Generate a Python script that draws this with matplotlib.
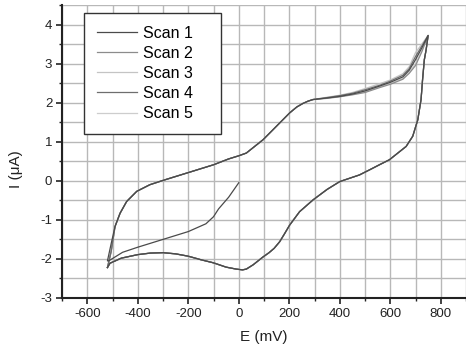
import numpy as np
import matplotlib.pyplot as plt
from matplotlib.ticker import MultipleLocator

plt.rcParams['font.family'] = ['Liberation Sans', 'DejaVu Sans']
plt.rcParams['axes.unicode_minus'] = False

# first half-sweep of scan 1 (0 mV -> negative vertex)
E_first = [0, -40, -80, -100, -130, -200, -300, -400, -460, -515]
I_first = [-0.05, -0.42, -0.72, -0.92, -1.10, -1.30, -1.50, -1.70, -1.83, -2.05]

# anodic sweep (negative vertex -> 750 mV)
E_anodic = [-520, -505, -490, -470, -444, -404, -352, -300, -200, -100, -40, 0, 30,
            96, 136, 162, 202, 230, 254, 275, 294, 350, 400, 450, 500, 560, 600, 650, 675,
            700, 725, 750]
I_anodic_common = [-1.17, -0.83, -0.53, -0.27, -0.10, 0.01, 0.21, 0.41, 0.56, 0.64, 0.71,
                   1.05, 1.31, 1.48, 1.74, 1.89, 1.98, 2.04, 2.08]
I_anodic_start = {
    'Scan 1': [-2.05, -1.60],
    'Scan 2': [-2.22, -1.80],
    'Scan 3': [-2.22, -1.80],
    'Scan 4': [-2.22, -1.80],
    'Scan 5': [-2.22, -1.80],
}
I_anodic_end = {
    'Scan 1': [2.12, 2.16, 2.22, 2.30, 2.43, 2.52, 2.66, 2.83, 3.10, 3.40, 3.72],
    'Scan 2': [2.11, 2.15, 2.20, 2.26, 2.39, 2.47, 2.60, 2.75, 2.95, 3.30, 3.72],
    'Scan 3': [2.14, 2.19, 2.26, 2.36, 2.49, 2.58, 2.74, 2.92, 3.28, 3.50, 3.72],
    'Scan 4': [2.13, 2.18, 2.24, 2.33, 2.45, 2.55, 2.70, 2.87, 3.18, 3.45, 3.72],
    'Scan 5': [2.12, 2.16, 2.21, 2.28, 2.41, 2.49, 2.62, 2.78, 3.00, 3.33, 3.72],
}

# cathodic sweep (750 mV -> negative vertex)
E_cathodic = [750, 742, 735, 728, 722, 709, 689, 663, 630, 597, 557, 518, 478, 400, 350, 294,
              241, 202, 180, 162, 140, 120, 96, 57, 30, 15, -10, -50, -100, -150, -200, -250,
              -300, -350, -400, -465, -510, -520]
I_cathodic = [3.72, 3.35, 3.10, 2.59, 2.08, 1.56, 1.14, 0.88, 0.71, 0.54, 0.41, 0.28, 0.15,
              -0.02, -0.22, -0.49, -0.79, -1.13, -1.37, -1.56, -1.73, -1.84, -1.95, -2.15,
              -2.26, -2.28, -2.26, -2.21, -2.10, -2.02, -1.93, -1.87, -1.84, -1.85, -1.89,
              -1.98, -2.11, -2.22]

scans = ['Scan 1', 'Scan 2', 'Scan 3', 'Scan 4', 'Scan 5']
colors = ['#4a4a4a', '#8c8c8c', '#c4c4c4', '#6e6e6e', '#cdcdcd']
zorders = [7, 5, 3, 6, 4]

fig = plt.figure(figsize=(4.66, 3.47), dpi=100)
ax = fig.add_axes([62 / 466, 49 / 347, 404 / 466, 293 / 347])

for name, c, z in zip(scans, colors, zorders):
    I_an = I_anodic_start[name] + I_anodic_common + I_anodic_end[name]
    E = list(E_anodic) + E_cathodic
    I = I_an + I_cathodic
    if name == 'Scan 1':
        E = E_first + E
        I = I_first + I
    ax.plot(E, I, color=c, lw=0.9, label=name, zorder=z)

ax.set_xlim(-700, 900)
ax.set_ylim(-3, 4.5)
ax.xaxis.set_major_locator(MultipleLocator(200))
ax.xaxis.set_minor_locator(MultipleLocator(100))
ax.yaxis.set_major_locator(MultipleLocator(1))
ax.yaxis.set_minor_locator(MultipleLocator(0.5))
ax.grid(True, which='both', color='#b8b8b8', lw=1.0, zorder=0)
ax.set_axisbelow(True)

ax.spines['top'].set_visible(False)
ax.spines['right'].set_visible(False)
for s in ['left', 'bottom']:
    ax.spines[s].set_linewidth(1.5)
    ax.spines[s].set_color('#222222')
ax.tick_params(which='major', direction='out', length=4, width=1.2, color='#222222',
               labelsize=9.5, pad=3, labelcolor='#222222')
ax.tick_params(which='minor', direction='out', length=2.5, width=1.0, color='#222222')

ax.set_xlabel('E (mV)', fontsize=11, color='#222222')
ax.set_ylabel('I (\u03bcA)', fontsize=11, color='#222222')
ax.xaxis.set_label_coords(0.5, -0.108)
ax.yaxis.set_label_coords(-0.097, 0.44)

leg = ax.legend(loc='upper left', bbox_to_anchor=(0.054, 0.973, 0.339, 0.0), mode='expand',
                borderaxespad=0, fontsize=11.5, handlelength=2.55, handletextpad=0.38,
                labelspacing=0.32, borderpad=0.8, fancybox=False, framealpha=1,
                edgecolor='#333333')
leg.get_frame().set_linewidth(1.0)

fig.savefig('out.png', dpi=100)
